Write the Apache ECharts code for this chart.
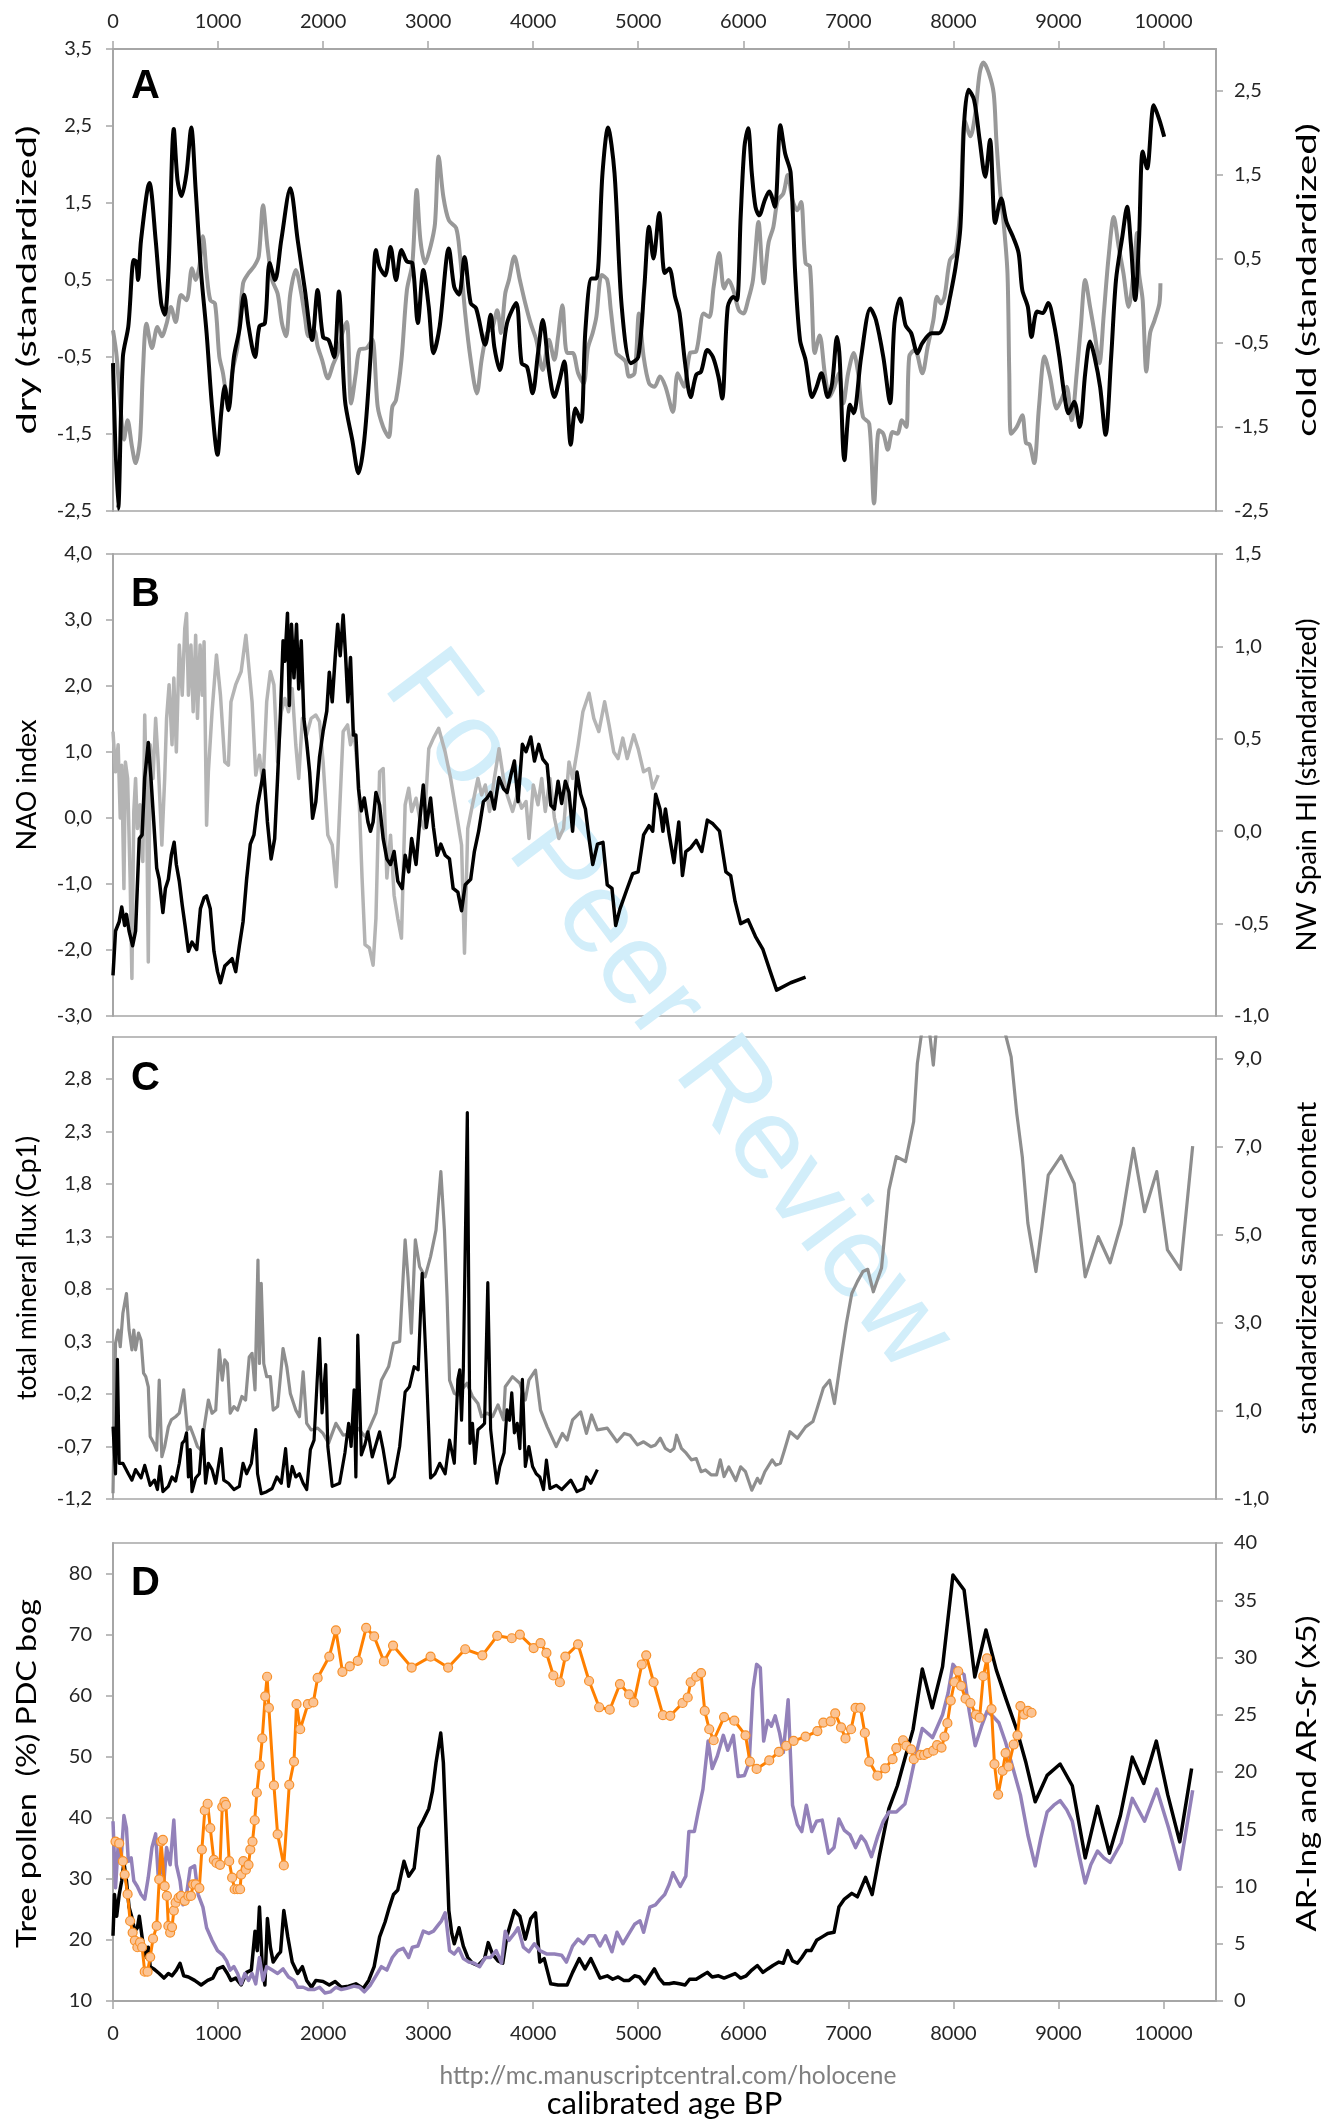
<!DOCTYPE html>
<html>
<head>
<meta charset="utf-8">
<script src="https://cdn.jsdelivr.net/npm/echarts@6/dist/echarts.min.js"></script>
<style>
html,body{margin:0;padding:0;background:#fff;}
#chart{width:1326px;height:2120px;}
</style>
</head>
<body>
<div id="chart"></div>
<script>
// ---- Tick values ----
const ageTicks = [0,1000,2000,3000,4000,5000,6000,7000,8000,9000,10000];
const dryTicks = [-2.5,-1.5,-0.5,0.5,1.5,2.5,3.5];
const coldTicks = [-2.5,-1.5,-0.5,0.5,1.5,2.5];
const naoTicks = [-3,-2,-1,0,1,2,3,4];
const hiTicks = [-1,-0.5,0,0.5,1,1.5];
const fluxTicks = [-1.2,-0.7,-0.2,0.3,0.8,1.3,1.8,2.3,2.8];
const sandTicks = [-1,1,3,5,7,9];
const pollenTicks = [10,20,30,40,50,60,70,80];
const arTicks = [0,5,10,15,20,25,30,35,40];

// ---- Panel A: dry (left) and cold (right), [age BP, standardized value] ----
const dryIndex = [[0,-0.58],[49,-2.47],[94,-0.5],[146,-0.1],[198,0.76],[220,0.74],[239,0.5],[267,1.02],[347,1.76],[406,1.02],[458,0.2],[492,0.05],[527,0.59],[579,2.46],[614,1.8],[652,1.59],[700,1.89],[745,2.48],[787,1.67],[839,0.59],[891,-0.19],[943,-1.15],[995,-1.77],[1030,-1.23],[1064,-0.88],[1099,-1.19],[1151,-0.5],[1203,-0.15],[1248,0.31],[1290,-0.1],[1352,-0.5],[1394,-0.1],[1446,-0.06],[1491,0.72],[1543,0.5],[1602,1.02],[1688,1.69],[1758,1.02],[1827,0.37],[1896,-0.28],[1948,0.37],[2000,-0.24],[2052,-0.28],[2105,-0.5],[2150,0.35],[2208,-1.06],[2278,-1.58],[2337,-2.01],[2392,-1.58],[2451,-0.5],[2503,0.89],[2538,0.67],[2590,0.56],[2642,0.93],[2694,0.5],[2746,0.89],[2798,0.74],[2850,0.72],[2902,-0.06],[2954,0.63],[3006,0.15],[3051,-0.45],[3110,-0.1],[3197,0.91],[3248,0.41],[3294,0.31],[3346,0.8],[3405,0.2],[3457,0.13],[3543,-0.34],[3595,0.05],[3630,-0.37],[3682,-0.67],[3751,-0.06],[3838,0.2],[3890,-0.58],[3942,-0.63],[3994,-0.97],[4046,-0.45],[4091,-0.02],[4150,-0.67],[4202,-1.02],[4244,-0.84],[4296,-0.56],[4358,-1.64],[4403,-1.17],[4455,-1.34],[4497,-0.15],[4556,0.52],[4601,0.52],[4660,1.89],[4712,2.48],[4774,1.89],[4843,0.15],[4930,-0.58],[5000,-0.5],[5058,0.41],[5103,1.19],[5145,0.78],[5200,1.37],[5252,0.59],[5295,0.65],[5351,0.28],[5393,0.07],[5446,-0.58],[5499,-1.02],[5552,-0.73],[5598,-0.69],[5658,-0.41],[5711,-0.5],[5764,-0.76],[5799,-1.04],[5852,0.15],[5905,0.28],[5940,0.24],[5975,1.32],[6011,2.23],[6046,2.47],[6081,1.89],[6116,1.45],[6152,1.34],[6205,1.54],[6247,1.65],[6300,1.45],[6353,2.51],[6399,2.14],[6451,1.89],[6494,0.59],[6540,-0.28],[6593,-0.54],[6656,-1.02],[6698,-0.89],[6744,-0.71],[6804,-1.02],[6846,-0.84],[6892,-0.24],[6917,-0.5],[6963,-1.84],[7016,-1.12],[7051,-1.23],[7122,-0.5],[7210,0.13],[7263,-0.02],[7333,-0.5],[7397,-1.1],[7439,-0.06],[7492,0.26],[7545,-0.09],[7598,-0.19],[7658,-0.45],[7704,-0.32],[7792,-0.19],[7862,-0.19],[7915,-0.06],[7968,0.28],[8021,0.67],[8067,1.19],[8102,2.53],[8144,2.97],[8197,2.84],[8250,2.32],[8303,1.84],[8349,2.32],[8398,1.24],[8455,1.56],[8504,1.26],[8568,1.06],[8621,0.85],[8656,0.37],[8709,0.15],[8744,-0.24],[8797,0.09],[8850,0.07],[8903,0.2],[8956,-0.06],[9009,-0.5],[9054,-0.97],[9097,-1.23],[9150,-1.08],[9203,-1.41],[9255,-0.71],[9301,-0.3],[9344,-0.5],[9397,-0.89],[9449,-1.51],[9502,-0.5],[9548,0.5],[9608,1.06],[9654,1.45],[9689,0.98],[9731,0.24],[9767,1.02],[9802,2.17],[9844,1.95],[9908,2.77],[9961,2.58],[10007,2.36]];

const coldIndex = [[0,-0.35],[35,-0.66],[76,-1.34],[104,-1.65],[139,-1.42],[180,-1.73],[215,-1.93],[257,-1.65],[284,-0.86],[319,-0.27],[371,-0.56],[423,-0.31],[465,-0.42],[510,-0.27],[551,-0.07],[596,-0.25],[648,0.07],[700,0.01],[752,0.39],[787,0.25],[822,0.41],[856,0.77],[891,0.33],[926,0.01],[971,-0.03],[1012,-0.66],[1047,-0.86],[1099,-1.26],[1134,-0.86],[1186,-0.54],[1238,0.21],[1290,0.33],[1342,0.41],[1387,0.53],[1428,1.14],[1470,0.65],[1515,0.25],[1567,0.09],[1609,-0.27],[1647,-0.42],[1688,0.09],[1740,0.37],[1792,0.09],[1827,-0.19],[1862,-0.42],[1914,-0.35],[1948,-0.54],[1990,-0.7],[2045,-0.92],[2094,-0.76],[2139,-0.62],[2184,-0.38],[2226,-0.25],[2267,-1.22],[2312,-0.86],[2347,-0.58],[2416,-0.56],[2468,-0.46],[2520,-1.26],[2572,-1.5],[2625,-1.62],[2659,-1.26],[2694,-1.18],[2746,-0.7],[2798,0.13],[2850,0.45],[2891,1.32],[2926,0.73],[2971,0.45],[3023,0.65],[3065,0.92],[3100,1.72],[3145,1.24],[3197,0.96],[3266,0.87],[3301,0.57],[3353,-0.15],[3405,-0.7],[3464,-1.1],[3509,-0.7],[3561,-0.38],[3613,-0.31],[3658,-0.11],[3693,-0.38],[3734,0.09],[3769,0.25],[3821,0.53],[3873,0.25],[3925,-0.03],[3977,-0.27],[4029,-0.46],[4091,-0.82],[4150,-0.46],[4202,-0.7],[4237,-0.42],[4278,-0.05],[4323,-0.62],[4376,-0.62],[4428,-0.86],[4480,-0.98],[4521,-0.56],[4566,-0.38],[4601,-0.19],[4653,0.31],[4705,0.25],[4739,-0.11],[4791,-0.62],[4826,-0.66],[4878,-0.72],[4913,-0.9],[4965,-0.86],[5007,-0.15],[5051,-0.66],[5103,-0.98],[5155,-1.02],[5207,-0.9],[5259,-1.02],[5330,-1.32],[5376,-0.86],[5436,-1.02],[5492,-0.62],[5552,-0.6],[5623,-0.15],[5676,-0.19],[5718,0.17],[5771,0.57],[5817,0.15],[5859,0.25],[5905,0.13],[5958,-0.11],[6000,-0.15],[6046,0.01],[6092,0.25],[6145,0.94],[6194,0.21],[6240,0.69],[6286,0.88],[6328,1.2],[6381,1.28],[6423,1.5],[6469,1.2],[6515,1.08],[6550,1.18],[6593,0.45],[6635,0.41],[6681,-0.62],[6727,-0.41],[6776,-0.86],[6822,-1.14],[6868,-1.02],[6910,-0.86],[6952,-1.22],[6998,-0.86],[7051,-0.62],[7093,-0.86],[7139,-1.38],[7199,-1.46],[7245,-2.41],[7291,-1.54],[7333,-1.58],[7376,-1.77],[7421,-1.56],[7467,-1.58],[7510,-1.42],[7552,-1.5],[7580,-0.66],[7633,-0.58],[7704,-0.86],[7756,-0.54],[7809,-0.23],[7845,0.05],[7880,-0.03],[7915,0.05],[7968,0.49],[8021,0.57],[8067,1.12],[8109,2.15],[8162,1.96],[8208,2.23],[8250,2.71],[8286,2.84],[8338,2.71],[8384,2.47],[8409,1.92],[8444,1.32],[8479,0.92],[8515,0.33],[8532,-0.86],[8550,-1.58],[8603,-1.5],[8656,-1.36],[8691,-1.69],[8727,-1.71],[8769,-1.93],[8815,-1.26],[8868,-0.66],[8920,-0.9],[8984,-1.28],[9026,-1.18],[9079,-1.02],[9125,-1.42],[9174,-0.86],[9213,-0.31],[9255,0.25],[9301,-0.07],[9344,-0.38],[9390,-0.74],[9432,-0.15],[9478,0.53],[9527,1.0],[9573,0.65],[9619,0.33],[9668,-0.07],[9714,0.33],[9749,0.81],[9767,0.33],[9802,0.01],[9837,-0.84],[9873,-0.38],[9915,-0.23],[9961,-0.03],[9971,0.21]];

// ---- Panel B: NAO index (left) and NW Spain HI (right) ----
const naoIndex = [[0,1.31],[24,0.7],[49,1.11],[69,0.0],[83,0.8],[104,-1.07],[118,0.85],[139,0.6],[163,-0.91],[180,-2.43],[198,0.1],[215,0.6],[232,-0.16],[257,0.2],[284,-0.66],[302,1.56],[319,0.35],[336,-2.18],[354,1.11],[381,0.6],[406,1.51],[430,0.85],[465,-0.41],[492,0.6],[510,1.51],[534,2.02],[562,1.11],[579,2.12],[603,1.0],[631,2.62],[659,1.86],[683,2.87],[700,3.1],[718,1.86],[742,2.62],[763,1.61],[787,2.77],[804,1.51],[829,2.62],[849,1.86],[867,2.67],[891,-0.11],[908,0.7],[943,1.61],[985,2.47],[1023,1.86],[1064,0.85],[1099,0.8],[1123,1.76],[1168,2.02],[1220,2.22],[1265,2.77],[1297,2.22],[1324,1.76],[1359,0.65],[1394,0.95],[1428,0.5],[1463,1.76],[1498,2.22],[1532,2.02],[1567,0.85],[1602,1.61],[1636,1.81],[1671,1.61],[1706,1.96],[1740,1.11],[1768,0.6],[1803,1.51],[1844,1.26],[1886,1.51],[1931,1.56],[1966,1.46],[2000,0.85],[2045,-0.26],[2087,-0.41],[2125,-1.04],[2157,0.1],[2191,1.31],[2233,1.41],[2261,1.11],[2295,1.31],[2337,0.55],[2371,-0.91],[2399,-1.92],[2441,-1.97],[2476,-2.23],[2503,-1.52],[2538,0.7],[2572,0.75],[2607,-0.91],[2642,-0.26],[2676,-1.17],[2711,-1.52],[2746,-1.82],[2781,0.2],[2815,0.45],[2843,0.1],[2885,0.3],[2919,0.0],[2961,-0.16],[3006,1.05],[3051,1.21],[3100,1.36],[3162,1.0],[3214,0.6],[3266,0.1],[3318,-0.41],[3346,-2.05],[3377,-0.16],[3422,0.2],[3474,0.6],[3509,0.35],[3544,0.5],[3585,0.1],[3630,0.6],[3675,1.05],[3717,0.6],[3752,0.35],[3804,0.1],[3848,0.35],[3890,0.15],[3932,0.25],[3960,-0.31],[4001,0.5],[4046,0.2],[4081,0.6],[4115,0.1],[4160,0.6],[4202,0.0],[4244,-0.31],[4289,-0.16],[4341,0.85],[4375,0.6],[4428,1.11],[4473,1.61],[4532,1.89],[4577,1.51],[4625,1.31],[4680,1.76],[4722,1.41],[4767,1.0],[4808,0.9],[4853,1.21],[4895,0.9],[4957,1.26],[4999,1.05],[5051,0.7],[5103,0.75],[5138,0.45],[5190,0.65]];

const spainHI = [[0,-0.78],[24,-0.54],[59,-0.49],[83,-0.41],[111,-0.51],[128,-0.45],[153,-0.54],[187,-0.62],[215,-0.54],[250,-0.04],[277,-0.02],[302,0.29],[336,0.48],[361,0.29],[388,0.05],[416,-0.2],[440,-0.26],[475,-0.44],[499,-0.31],[527,-0.26],[555,-0.13],[582,-0.06],[603,-0.18],[631,-0.27],[659,-0.4],[686,-0.51],[718,-0.65],[752,-0.6],[797,-0.64],[832,-0.42],[867,-0.36],[891,-0.35],[926,-0.42],[961,-0.65],[995,-0.76],[1023,-0.82],[1064,-0.73],[1099,-0.71],[1134,-0.69],[1168,-0.76],[1203,-0.62],[1238,-0.49],[1272,-0.26],[1307,-0.07],[1342,-0.02],[1376,0.14],[1411,0.25],[1435,0.33],[1470,0.05],[1505,-0.15],[1539,-0.04],[1567,0.29],[1595,0.65],[1619,1.03],[1636,0.92],[1661,1.18],[1678,0.68],[1699,1.12],[1723,0.83],[1747,1.12],[1768,0.77],[1792,1.03],[1817,0.61],[1844,0.48],[1872,0.32],[1900,0.07],[1931,0.16],[1966,0.4],[2000,0.54],[2035,0.65],[2059,0.86],[2087,0.7],[2115,0.94],[2139,1.12],[2163,0.95],[2191,1.17],[2215,0.94],[2236,0.7],[2261,0.94],[2288,0.52],[2312,0.52],[2337,0.23],[2364,0.11],[2392,0.18],[2427,0.05],[2451,0.0],[2476,0.05],[2503,0.21],[2538,0.14],[2572,-0.04],[2607,-0.15],[2642,-0.18],[2676,-0.11],[2711,-0.27],[2753,-0.31],[2781,-0.13],[2815,-0.22],[2843,-0.04],[2885,-0.18],[2919,0.05],[2954,0.25],[2982,0.02],[3023,0.18],[3051,0.02],[3086,-0.13],[3121,-0.07],[3162,-0.13],[3203,-0.15],[3238,-0.31],[3283,-0.33],[3318,-0.43],[3353,-0.29],[3405,-0.26],[3440,-0.11],[3481,0.0],[3526,0.16],[3561,0.18],[3595,0.21],[3630,0.12],[3675,0.29],[3717,0.23],[3752,0.21],[3786,0.3],[3821,0.38],[3856,0.16],[3897,0.47],[3932,0.43],[3977,0.51],[4012,0.38],[4053,0.47],[4091,0.39],[4133,0.36],[4168,0.14],[4202,0.12],[4237,0.27],[4271,0.15],[4306,0.27],[4341,0.21],[4375,0.0],[4417,0.32],[4452,0.2],[4497,0.12],[4532,-0.04],[4567,-0.18],[4612,-0.07],[4664,-0.06],[4705,-0.29],[4750,-0.31],[4785,-0.51],[4826,-0.42],[4895,-0.31],[4947,-0.23],[4999,-0.22],[5051,-0.02],[5103,0.03],[5138,0.0],[5166,0.2],[5207,0.12],[5235,0.0],[5259,0.12],[5295,-0.02],[5340,-0.17],[5386,0.05],[5421,-0.24],[5453,-0.11],[5499,-0.09],[5552,-0.05],[5605,-0.11],[5658,0.06],[5711,0.04],[5774,0.0],[5834,-0.22],[5880,-0.24],[5922,-0.38],[5975,-0.5],[6046,-0.48],[6116,-0.57],[6187,-0.64],[6257,-0.76],[6317,-0.86],[6451,-0.82],[6593,-0.79]];

// ---- Panel C: total mineral flux (left) and sand content (right) ----
const mineralFlux = [[0,-0.51],[24,-0.96],[42,0.13],[59,-0.86],[94,-0.86],[146,-0.96],[180,-1.02],[215,-0.92],[267,-1.0],[302,-0.88],[354,-1.07],[395,-1.02],[423,-1.11],[447,-0.89],[475,-1.13],[527,-1.08],[562,-0.99],[596,-1.03],[631,-0.86],[659,-0.67],[683,-0.64],[700,-0.57],[718,-0.99],[735,-0.73],[752,-1.13],[787,-1.0],[822,-0.96],[856,-0.54],[881,-1.05],[908,-0.86],[943,-0.92],[978,-1.05],[1030,-0.72],[1054,-1.02],[1099,-1.05],[1151,-1.11],[1203,-1.08],[1238,-0.86],[1272,-0.96],[1317,-0.86],[1359,-0.54],[1376,-0.96],[1411,-1.15],[1463,-1.13],[1515,-1.1],[1560,-0.99],[1602,-1.05],[1643,-0.72],[1671,-1.08],[1706,-0.89],[1740,-0.99],[1775,-0.96],[1810,-1.05],[1844,-1.11],[1879,-0.73],[1914,-0.64],[1942,-0.1],[1966,0.33],[1990,-0.38],[2025,0.08],[2045,-0.7],[2087,-1.08],[2157,-1.05],[2208,-0.76],[2243,-0.48],[2267,-0.7],[2295,-0.16],[2312,-0.99],[2330,0.36],[2364,-0.78],[2399,-0.68],[2427,-0.56],[2468,-0.8],[2538,-0.56],[2572,-0.73],[2624,-1.05],[2676,-0.99],[2729,-0.7],[2781,-0.18],[2822,-0.13],[2867,0.06],[2905,0.03],[2943,0.95],[2981,0.09],[3023,-1.0],[3065,-0.96],[3110,-0.86],[3162,-0.96],[3204,-0.64],[3249,-0.86],[3283,-0.06],[3301,0.03],[3318,-0.45],[3335,0.03],[3373,2.48],[3398,-0.67],[3422,-0.48],[3446,-0.86],[3474,-0.54],[3509,-0.51],[3537,-0.48],[3568,0.86],[3595,-0.54],[3630,-0.86],[3654,-1.05],[3682,-0.89],[3723,-0.76],[3751,-0.35],[3775,-0.45],[3796,-0.19],[3821,-0.57],[3848,-0.48],[3873,-0.72],[3897,-0.06],[3925,-0.89],[3959,-0.7],[3994,-0.89],[4029,-0.96],[4063,-0.99],[4098,-1.11],[4126,-0.83],[4160,-1.1],[4219,-1.07],[4271,-1.11],[4358,-1.02],[4417,-1.13],[4480,-1.1],[4507,-0.99],[4549,-1.05],[4611,-0.92]];

const sandContent = [[0,-0.87],[24,2.54],[49,2.84],[69,2.46],[94,3.22],[128,3.67],[153,2.84],[180,2.39],[198,2.84],[215,2.39],[243,2.77],[267,2.61],[291,1.86],[312,1.78],[336,1.55],[354,0.42],[388,0.27],[416,0.11],[440,1.7],[465,-0.04],[492,0.19],[527,0.64],[555,0.8],[596,0.87],[631,0.95],[673,1.48],[708,0.57],[735,0.64],[770,0.42],[804,0.19],[839,0.11],[874,0.72],[908,1.25],[943,0.95],[978,1.02],[1012,2.39],[1040,1.7],[1064,2.16],[1089,2.08],[1116,0.95],[1151,1.1],[1186,1.02],[1227,1.33],[1262,1.25],[1297,2.23],[1324,2.31],[1352,1.48],[1380,4.43],[1394,2.08],[1411,3.9],[1435,2.08],[1463,1.78],[1498,1.78],[1525,1.02],[1567,1.1],[1619,2.42],[1654,2.01],[1688,1.4],[1740,1.02],[1775,0.87],[1810,1.89],[1844,0.72],[1886,0.57],[1948,0.61],[2000,0.49],[2052,0.27],[2122,0.72],[2191,0.45],[2261,0.49],[2330,0.61],[2399,0.42],[2434,0.57],[2503,0.95],[2555,1.7],[2624,2.01],[2670,2.54],[2729,2.58],[2781,4.89],[2808,4.05],[2840,2.77],[2878,4.89],[2919,4.28],[2971,4.05],[3023,4.51],[3075,5.11],[3121,6.44],[3155,5.11],[3180,3.6],[3204,1.7],[3249,1.4],[3283,1.36],[3318,1.48],[3370,1.63],[3422,1.33],[3474,1.17],[3509,0.87],[3561,0.95],[3613,0.87],[3665,1.14],[3717,0.8],[3734,1.55],[3803,1.78],[3873,1.63],[3925,1.25],[3959,1.7],[4022,1.93],[4070,1.02],[4133,0.64],[4219,0.19],[4278,0.49],[4323,0.34],[4375,0.8],[4452,0.98],[4507,0.49],[4556,0.91],[4611,0.57],[4705,0.61],[4798,0.3],[4867,0.49],[4922,0.45],[4992,0.23],[5051,0.3],[5120,0.19],[5164,0.23],[5210,0.38],[5259,0.15],[5305,0.08],[5340,0.15],[5365,0.45],[5411,0.15],[5457,0.04],[5506,-0.11],[5552,-0.08],[5598,-0.38],[5640,-0.34],[5693,-0.45],[5746,-0.45],[5781,-0.11],[5817,-0.49],[5862,-0.27],[5929,-0.58],[5975,-0.27],[6021,-0.38],[6081,-0.8],[6134,-0.53],[6162,-0.64],[6205,-0.38],[6275,-0.11],[6310,-0.23],[6353,-0.19],[6388,0.08],[6444,0.53],[6515,0.38],[6593,0.64],[6663,0.76],[6698,1.02],[6762,1.52],[6822,1.7],[6868,1.17],[6928,2.16],[6981,2.99],[7033,3.67],[7086,3.94],[7139,4.17],[7185,4.22],[7238,3.71],[7316,4.25],[7386,6.02],[7457,6.78],[7545,6.67],[7622,7.58],[7657,8.9],[7704,9.7],[7740,10.3],[7809,8.86],[7850,10.0],[7950,11.0],[8100,11.6],[8300,11.3],[8450,10.2],[8497,9.55],[8550,9.05],[8603,7.77],[8656,6.78],[8709,5.27],[8786,4.17],[8843,5.2],[8903,6.36],[9026,6.8],[9150,6.17],[9255,4.05],[9379,4.96],[9492,4.37],[9597,5.25],[9714,6.97],[9820,5.53],[9936,6.44],[10038,4.66],[10162,4.22],[10278,7.02]];

// ---- Panel D: tree pollen % (left), AR-Ing and AR-Sr x5 (right) ----
const treePollen = [[24,36.1],[59,35.8],[94,32.9],[111,30.7],[139,27.5],[163,23.1],[187,21.2],[208,19.9],[232,18.8],[257,19.6],[277,18.8],[302,14.8],[329,14.8],[354,17.2],[381,20.2],[416,22.3],[440,29.9],[458,36.1],[475,36.4],[492,28.8],[513,27.2],[527,22.3],[544,21.2],[562,22.1],[579,24.8],[596,26.1],[624,26.9],[648,27.2],[683,26.4],[718,27.2],[742,27.2],[763,29.1],[787,29.1],[822,28.5],[846,34.8],[874,41.2],[901,42.3],[926,38.3],[960,33.1],[985,32.6],[1019,32.3],[1040,41.8],[1061,42.6],[1075,42.1],[1106,32.9],[1134,30.2],[1158,28.3],[1186,28.3],[1210,28.3],[1220,30.7],[1241,32.9],[1265,31.5],[1290,32.3],[1307,34.8],[1328,36.1],[1349,39.6],[1369,44.1],[1397,48.6],[1421,53.0],[1449,59.9],[1467,63.1],[1484,58.0],[1532,45.3],[1567,37.3],[1626,32.2],[1678,45.4],[1723,49.2],[1747,58.6],[1782,54.5],[1855,58.6],[1907,58.9],[1948,62.9],[2059,66.4],[2122,70.7],[2184,63.9],[2254,64.8],[2330,65.7],[2410,71.1],[2486,69.7],[2579,65.6],[2666,68.2],[2843,64.6],[3023,66.4],[3190,64.6],[3353,67.6],[3516,66.6],[3658,69.8],[3796,69.4],[3873,70.0],[4004,67.8],[4070,68.6],[4126,67.0],[4192,63.3],[4254,62.2],[4306,66.4],[4427,68.4],[4532,62.4],[4628,58.1],[4729,57.7],[4826,61.9],[4913,60.2],[4958,58.9],[5034,65.1],[5076,66.6],[5146,62.2],[5235,56.8],[5305,56.7],[5422,58.8],[5471,59.7],[5499,62.2],[5552,63.1],[5598,63.7],[5633,57.5],[5676,54.5],[5718,52.7],[5817,56.5],[5915,55.9],[6021,53.5],[6063,49.2],[6127,48.0],[6247,49.4],[6339,50.8],[6409,51.8],[6479,52.6],[6593,53.3],[6705,54.2],[6762,55.6],[6832,55.8],[6875,57.1],[6931,54.8],[6973,53.0],[7026,54.5],[7069,58.0],[7115,58.0],[7157,53.9],[7199,49.2],[7277,46.9],[7351,48.1],[7421,49.6],[7457,51.4],[7521,52.7],[7552,51.8],[7598,51.2],[7623,49.6],[7686,50.3],[7721,50.3],[7756,50.6],[7809,51.0],[7845,51.9],[7887,51.5],[7915,53.3],[7943,55.5],[7975,59.2],[8010,62.2],[8046,64.0],[8074,61.6],[8116,59.5],[8162,58.8],[8215,56.9],[8250,56.4],[8285,63.2],[8320,66.1],[8363,57.8],[8391,48.8],[8426,43.8],[8469,47.7],[8497,50.6],[8525,48.4],[8574,52.0],[8610,53.5],[8638,58.3],[8673,56.9],[8709,57.5],[8744,57.2]];

const arSr = [[0,15.7],[24,9.9],[49,13.6],[76,12.2],[104,16.2],[128,15.1],[146,12.2],[173,12.5],[198,10.5],[232,10.0],[267,9.3],[302,8.9],[336,10.8],[371,13.4],[406,14.6],[433,10.5],[458,12.2],[485,10.5],[510,13.4],[544,11.9],[579,15.8],[603,11.9],[638,10.5],[666,8.4],[700,9.3],[735,11.6],[777,11.8],[811,9.3],[856,8.2],[891,6.4],[943,5.3],[995,4.4],[1047,4.0],[1082,3.5],[1116,2.7],[1151,3.0],[1186,2.4],[1220,1.5],[1255,2.4],[1290,1.8],[1324,2.4],[1359,1.5],[1394,3.8],[1428,1.8],[1463,3.0],[1515,2.7],[1567,2.4],[1619,2.8],[1671,2.1],[1723,1.8],[1758,1.2],[1810,1.2],[1862,1.0],[1914,1.0],[1966,1.2],[2018,0.7],[2070,0.8],[2122,1.2],[2174,1.0],[2226,1.1],[2295,1.3],[2347,1.2],[2392,0.8],[2451,1.4],[2503,2.2],[2555,3.0],[2607,2.7],[2659,3.8],[2711,4.4],[2763,4.6],[2815,3.8],[2850,4.7],[2902,4.8],[2954,6.1],[3006,5.9],[3051,6.1],[3093,6.6],[3127,7.0],[3162,7.7],[3180,6.4],[3204,4.4],[3249,4.1],[3290,4.6],[3335,3.7],[3387,3.4],[3439,3.3],[3491,3.0],[3544,3.8],[3595,3.8],[3648,4.4],[3699,3.3],[3734,6.1],[3769,5.3],[3821,5.9],[3856,6.4],[3907,4.7],[3959,4.3],[4011,5.0],[4063,4.4],[4133,4.1],[4202,4.1],[4271,4.0],[4316,3.4],[4375,4.8],[4427,5.4],[4480,5.0],[4532,5.7],[4584,5.7],[4636,4.8],[4688,5.7],[4750,4.3],[4798,6.0],[4854,5.0],[4913,5.9],[4965,6.7],[5017,7.0],[5051,6.0],[5111,8.2],[5164,8.4],[5210,8.9],[5252,9.3],[5295,10.2],[5330,11.2],[5400,10.0],[5453,10.9],[5482,14.8],[5534,14.8],[5570,16.5],[5616,18.5],[5665,22.7],[5704,20.3],[5753,21.4],[5810,23.2],[5852,21.9],[5905,23.2],[5951,19.6],[6011,19.7],[6056,20.8],[6092,27.2],[6127,29.4],[6162,29.1],[6194,22.7],[6233,24.5],[6268,24.0],[6304,24.9],[6346,23.4],[6381,21.7],[6427,26.3],[6469,17.1],[6515,15.4],[6557,14.8],[6600,17.1],[6652,14.8],[6698,15.7],[6751,15.8],[6811,12.9],[6864,13.4],[6910,15.9],[6963,14.9],[7016,14.5],[7069,13.4],[7122,14.4],[7164,13.9],[7220,12.6],[7280,14.4],[7333,15.7],[7386,16.5],[7457,16.5],[7538,17.2],[7580,18.8],[7640,21.4],[7704,23.8],[7802,23.0],[7897,25.0],[7950,26.9],[7996,29.4],[8039,28.9],[8102,28.5],[8151,25.3],[8208,22.3],[8268,24.0],[8320,25.3],[8373,24.9],[8433,24.3],[8497,22.6],[8568,20.3],[8638,18.0],[8709,14.5],[8779,11.8],[8832,14.2],[8892,16.5],[8956,17.1],[9016,17.5],[9079,16.7],[9132,15.7],[9195,12.8],[9255,10.3],[9308,11.9],[9372,13.1],[9432,12.5],[9492,12.1],[9597,13.8],[9703,17.7],[9820,15.7],[9936,18.5],[10049,15.1],[10155,11.5],[10278,18.4]];

const arIng = [[0,5.7],[14,9.3],[35,7.4],[59,9.3],[83,10.5],[104,12.1],[128,10.5],[153,8.2],[180,7.3],[208,6.1],[232,6.4],[250,7.4],[277,5.6],[302,4.1],[319,3.8],[336,4.7],[354,3.0],[388,2.8],[440,2.4],[485,2.0],[527,2.4],[562,2.2],[603,2.7],[638,3.3],[673,2.2],[718,2.1],[777,1.8],[839,1.4],[901,1.8],[950,2.0],[995,2.8],[1047,3.0],[1089,2.4],[1123,1.8],[1168,2.0],[1220,1.4],[1272,2.5],[1317,2.7],[1352,6.1],[1373,4.4],[1394,8.2],[1421,3.0],[1446,1.4],[1470,7.2],[1498,4.7],[1525,3.4],[1567,4.0],[1595,4.3],[1626,7.9],[1664,5.6],[1706,3.4],[1758,2.4],[1803,3.0],[1844,1.8],[1890,1.2],[1931,1.8],[2000,1.7],[2059,1.4],[2115,1.7],[2174,1.2],[2243,1.3],[2312,1.5],[2382,1.1],[2434,1.8],[2486,3.0],[2538,5.6],[2590,6.9],[2631,8.2],[2670,9.3],[2711,9.7],[2746,11.2],[2770,12.2],[2815,10.9],[2867,11.6],[2912,15.1],[2954,15.8],[3006,16.8],[3041,18.3],[3075,20.8],[3120,23.4],[3145,20.8],[3169,15.1],[3197,7.9],[3225,5.9],[3249,5.0],[3294,6.4],[3335,4.8],[3377,3.8],[3422,3.3],[3474,3.1],[3537,3.7],[3572,5.1],[3613,4.1],[3665,3.5],[3710,3.3],[3751,5.7],[3821,7.9],[3873,7.4],[3925,5.4],[3977,7.2],[4022,7.7],[4063,3.4],[4105,3.7],[4167,1.5],[4237,1.4],[4323,1.4],[4375,2.5],[4438,3.7],[4493,2.8],[4549,3.7],[4636,2.0],[4705,2.2],[4757,1.9],[4809,2.1],[4861,1.8],[4913,1.8],[4965,2.2],[5010,2.1],[5062,1.5],[5111,2.2],[5153,2.8],[5199,2.0],[5245,1.5],[5295,1.5],[5340,1.6],[5393,1.5],[5446,1.4],[5489,1.9],[5552,1.9],[5605,2.2],[5658,2.5],[5704,2.1],[5764,2.2],[5817,2.0],[5870,2.2],[5922,2.4],[5975,2.0],[6028,2.2],[6081,2.7],[6134,3.1],[6187,2.5],[6233,2.8],[6282,3.1],[6339,3.4],[6381,3.3],[6423,4.4],[6469,3.5],[6515,3.3],[6557,3.8],[6600,4.4],[6645,4.4],[6698,5.3],[6751,5.6],[6804,5.9],[6864,6.0],[6910,8.2],[6963,8.9],[7033,9.4],[7086,9.1],[7164,10.8],[7227,9.3],[7298,12.8],[7386,16.8],[7467,18.8],[7545,21.4],[7616,23.7],[7704,29.0],[7799,25.6],[7897,29.2],[7996,37.2],[8102,35.9],[8204,28.3],[8310,32.4],[8409,28.9],[8504,26.3],[8603,23.7],[8691,20.8],[8779,17.4],[8892,19.7],[9016,20.7],[9132,18.8],[9255,12.5],[9372,17.0],[9485,12.9],[9590,16.2],[9703,21.3],[9812,19.0],[9932,22.7],[10041,18.0],[10155,13.9],[10268,20.3]];

// ---- Axis titles: [panel, side, text, stretch along reading direction] ----
const axisTitles = [
  [0, 'left',  'dry (standardized)', 1.47],
  [0, 'right', 'cold (standardized)', 1.42],
  [1, 'left',  'NAO index', 1.0],
  [1, 'right', 'NW Spain HI (standardized)', 1.02],
  [2, 'left',  'total mineral flux (Cp1)', 0.98],
  [2, 'right', 'standardized sand content', 1.07],
  [3, 'left',  'Tree pollen  (%) PDC bog', 1.19],
  [3, 'right', 'AR-Ing and AR-Sr (x5)', 1.22]
];

// ---- Styling ----
const AXIS_GRAY = '#a6a6a6';
const FONT = 'Lato, "Liberation Sans", sans-serif';
const LABEL_COLOR = '#262626';
const TITLE_SIZE = 27;
const comma1 = v => v.toFixed(1).replace('.', ',');
const plain = v => String(v);

const PLOT_LEFT = 113, PLOT_WIDTH = 1103;
const LEFT_TITLE_X = 27, RIGHT_TITLE_X = 1307;
const panels = [
  { top: 49,   height: 462 },
  { top: 554,  height: 462 },
  { top: 1037, height: 462 },
  { top: 1543, height: 461 }
];

const grids = panels.map(p => ({
  left: PLOT_LEFT, width: PLOT_WIDTH, top: p.top, height: p.height,
  show: true, borderColor: AXIS_GRAY, borderWidth: 1.5, backgroundColor: 'transparent'
}));

function ageAxis(gridIndex, position, visible, extra) {
  return Object.assign({
    type: 'value', gridIndex, position, min: 0, max: 10500,
    axisLine: { show: visible, onZero: false, lineStyle: { color: AXIS_GRAY, width: 2 } },
    axisTick: { show: visible, inside: false, length: 8, customValues: ageTicks, lineStyle: { color: AXIS_GRAY, width: 1.5 } },
    axisLabel: { show: visible, customValues: ageTicks, formatter: plain, margin: position === 'top' ? 17 : 23,
      fontFamily: FONT, fontSize: 20, color: LABEL_COLOR },
    splitLine: { show: false }
  }, extra || {});
}

function valueAxis(gridIndex, position, min, max, ticks, fmt) {
  return {
    type: 'value', gridIndex, position, min, max,
    axisLine: { show: true, onZero: false, lineStyle: { color: AXIS_GRAY, width: 2 } },
    axisTick: { show: true, inside: false, length: 7, customValues: ticks, lineStyle: { color: AXIS_GRAY, width: 1.5 } },
    axisLabel: { show: true, customValues: ticks, formatter: fmt,
      margin: position === 'left' ? 21 : 18, fontFamily: FONT, fontSize: 20, color: LABEL_COLOR },
    splitLine: { show: false }
  };
}

const xAxes = [
  ageAxis(0, 'top', true),
  ageAxis(1, 'bottom', false),
  ageAxis(2, 'bottom', false),
  ageAxis(3, 'bottom', true, {
    name: 'calibrated age BP', nameLocation: 'middle', nameGap: 87,
    nameTextStyle: { fontFamily: FONT, fontSize: 31, color: '#000' }
  })
];

const yAxes = [
  valueAxis(0, 'left',  -2.5, 3.5, dryTicks,  comma1),
  valueAxis(0, 'right', -2.5, 3.0, coldTicks, comma1),
  valueAxis(1, 'left',  -3,   4,   naoTicks,  comma1),
  valueAxis(1, 'right', -1,   1.5, hiTicks,   comma1),
  valueAxis(2, 'left',  -1.2, 3.2, fluxTicks, comma1),
  valueAxis(2, 'right', -1,   9.5, sandTicks, comma1),
  valueAxis(3, 'left',  10,   85,  pollenTicks, plain),
  valueAxis(3, 'right', 0,    40,  arTicks,   plain)
];

function lineSeries(name, data, xi, yi, color, width, extra) {
  return Object.assign({
    type: 'line', name, data, xAxisIndex: xi, yAxisIndex: yi,
    symbol: 'none', showSymbol: false, clip: true, animation: false,
    lineStyle: { color, width, join: 'round' }, itemStyle: { color }, z: 2
  }, extra || {});
}

const series = [
  lineSeries('cold', coldIndex, 0, 1, '#989898', 4, { smooth: 0.3 }),
  lineSeries('dry', dryIndex, 0, 0, '#000000', 4, { smooth: 0.3 }),
  lineSeries('NAO index', naoIndex, 1, 2, '#b4b4b4', 3.5),
  lineSeries('NW Spain HI', spainHI, 1, 3, '#000000', 3.5),
  lineSeries('sand content', sandContent, 2, 5, '#8e8e8e', 3.2),
  lineSeries('mineral flux', mineralFlux, 2, 4, '#000000', 3.2),
  lineSeries('AR-Ing', arIng, 3, 7, '#000000', 3.5),
  lineSeries('AR-Sr', arSr, 3, 7, '#9381b9', 3.5),
  lineSeries('tree pollen', treePollen, 3, 6, '#ff8000', 3, {
    symbol: 'circle', showSymbol: true, showAllSymbol: true, symbolSize: 9,
    itemStyle: { color: '#fbc393', borderColor: '#f7902a', borderWidth: 1.2 }
  })
];

const letters = [['A', 87], ['B', 595], ['C', 1079], ['D', 1584]].map(([t, y]) => ({
  type: 'text', x: 131, y, z: 10,
  style: { text: t, fill: '#000', fontFamily: '"Liberation Sans", Arial, sans-serif',
    fontWeight: 'bold', fontSize: 40, align: 'left', verticalAlign: 'middle' }
}));

// Vertical axis titles, read bottom-to-top and stretched along the reading direction.
const titleGraphics = axisTitles.map(([pi, side, text, stretch]) => ({
  type: 'text',
  x: side === 'left' ? LEFT_TITLE_X : RIGHT_TITLE_X,
  y: panels[pi].top + panels[pi].height / 2,
  rotation: Math.PI / 2, scaleX: stretch, scaleY: 1, z: 10,
  style: { text, fill: '#000', fontFamily: FONT, fontSize: TITLE_SIZE, align: 'center', verticalAlign: 'middle' }
}));

const graphics = [
  {
    type: 'text', x: 667, y: 1012, rotation: -53 * Math.PI / 180, z: 0, silent: true,
    style: { text: 'For Peer Review', fill: '#d2eefa', fontFamily: '"Liberation Sans", Arial, sans-serif',
      fontSize: 116, align: 'center', verticalAlign: 'middle' }
  },
  {
    type: 'text', x: 668, y: 2076, z: 10,
    style: { text: 'http://mc.manuscriptcentral.com/holocene', fill: '#7f7f7f',
      fontFamily: FONT, fontSize: 24.5, align: 'center', verticalAlign: 'middle' }
  }
].concat(letters, titleGraphics);

const chart = echarts.init(document.getElementById('chart'), null, { renderer: 'canvas' });
chart.setOption({
  animation: false,
  backgroundColor: '#ffffff',
  grid: grids,
  xAxis: xAxes,
  yAxis: yAxes,
  series,
  graphic: graphics
});
</script>
</body>
</html>
